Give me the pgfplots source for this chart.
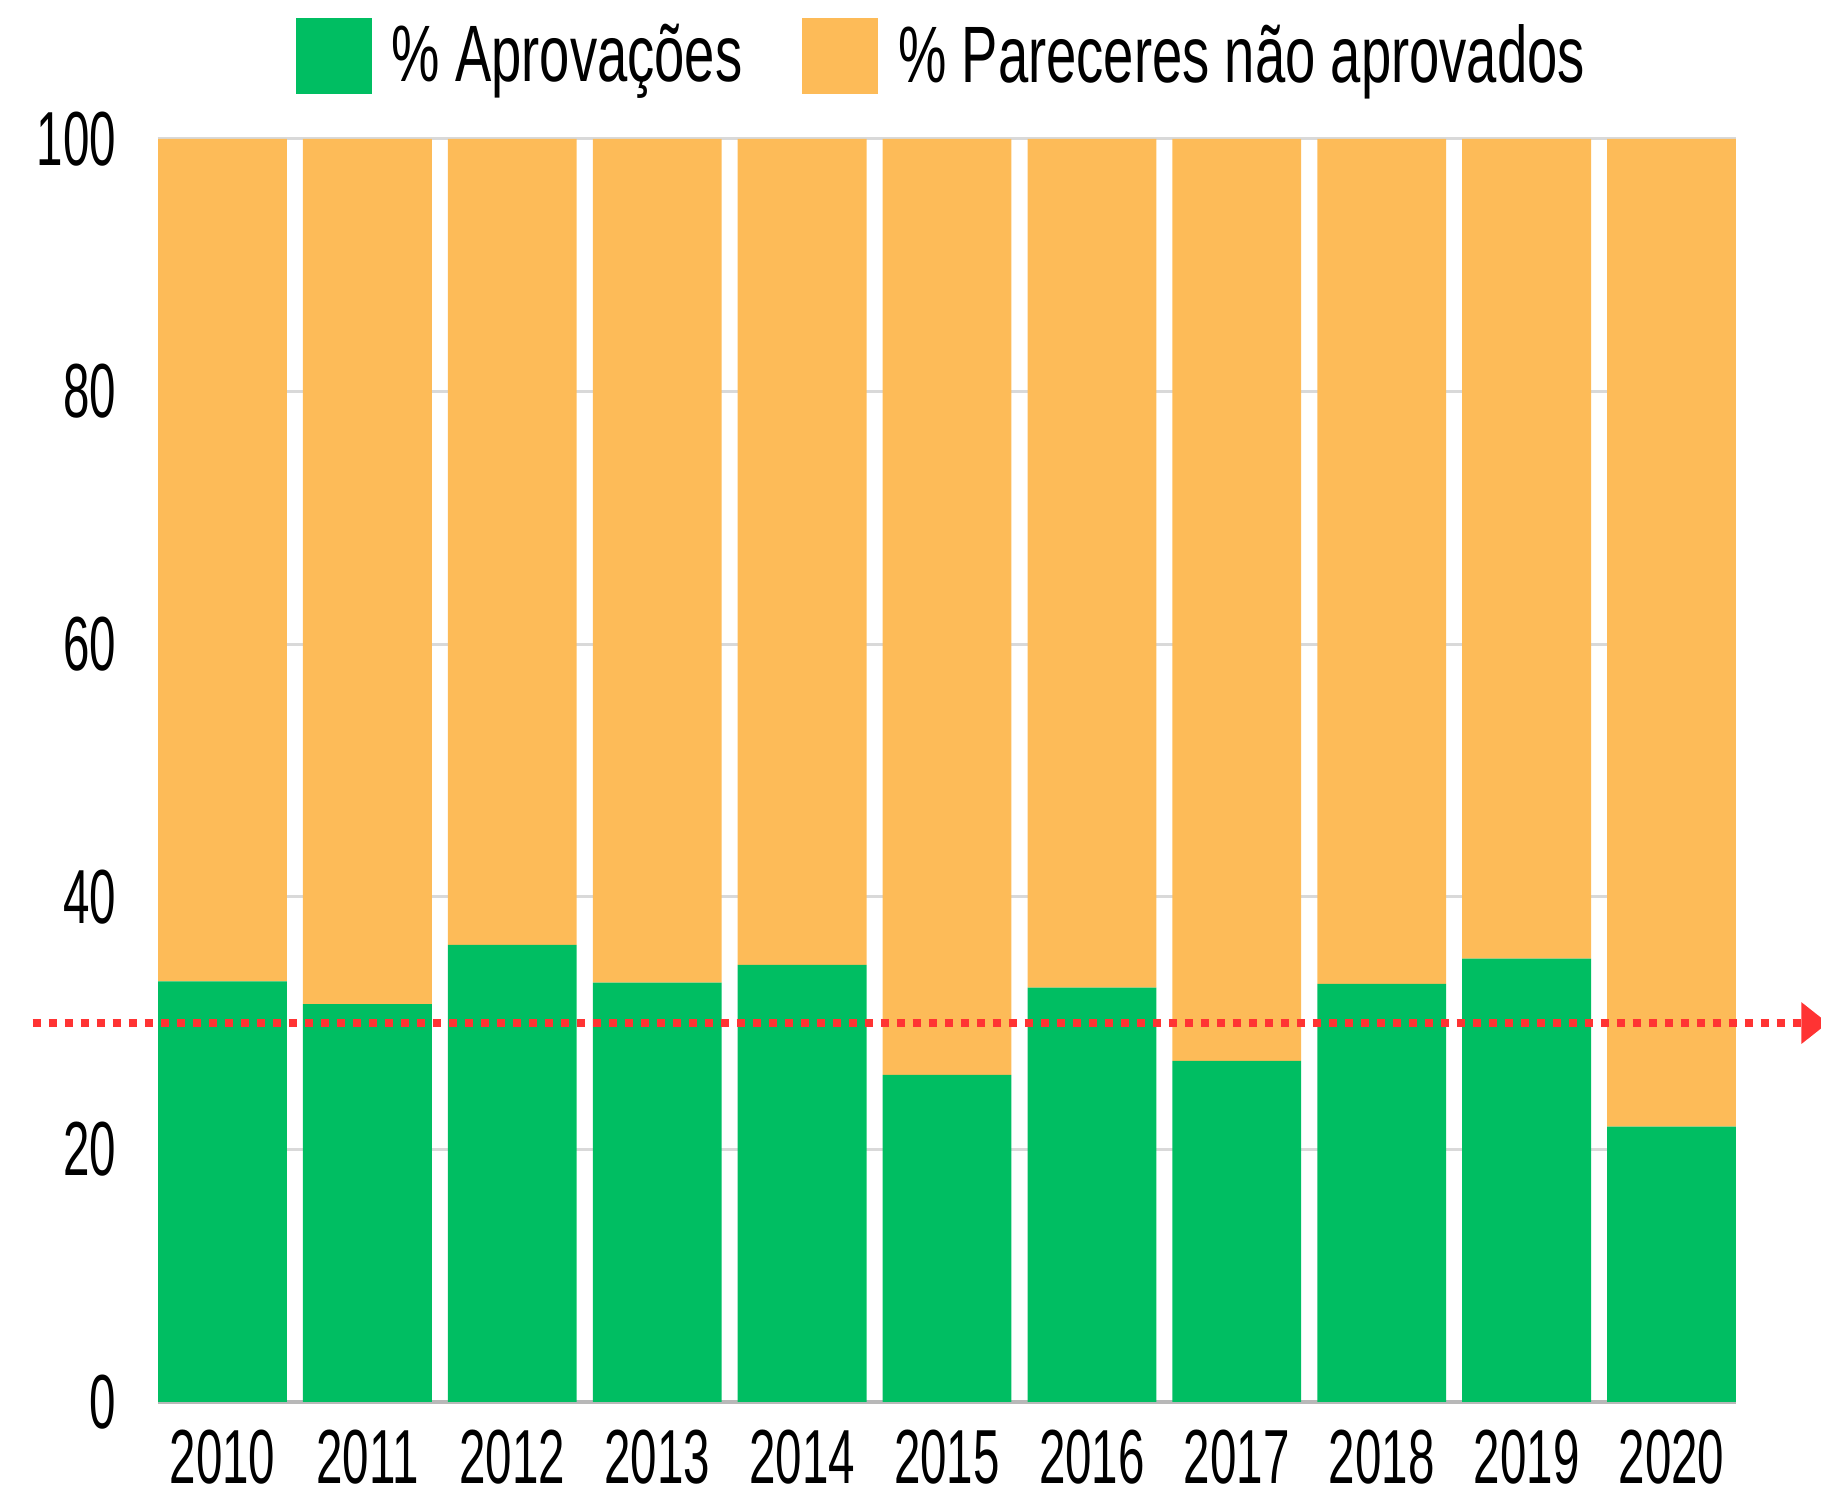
\documentclass[border=0pt]{standalone}
\usepackage{pgfplots}
\pgfplotsset{compat=1.18}
\usepackage{fontspec}
\setmainfont[FakeStretch=0.62]{Liberation Sans}
\newfontfamily\legfont[FakeStretch=0.68]{Liberation Sans}
\usetikzlibrary{arrows.meta}
\definecolor{verde}{RGB}{0,190,98}
\definecolor{laranja}{RGB}{253,187,88}
\definecolor{vermelho}{RGB}{255,51,51}
\begin{document}
\begin{tikzpicture}
\pgfplotsset{
    common/.style={
        width=473.4pt, height=378.9pt, scale only axis,
        xmin=-0.445, xmax=10.445, ymin=0, ymax=100,
    },
}
\begin{axis}[
    common,
    name=ax,
    ybar stacked,
    bar width=0.889,
    axis lines=left,
    axis line style={-},
    y axis line style={draw=none},
    x axis line style={draw=black!28, line width=1.2pt},
    xtick={0,...,10},
    xticklabels={2010,2011,2012,2013,2014,2015,2016,2017,2018,2019,2020},
    ytick={0,20,40,60,80,100},
    major tick length=0pt,
    ymajorgrids,
    grid style={draw=black!15, line width=0.9pt},
    /pgf/number format/assume math mode=true,
    tick label style={font=\fontsize{23}{23}\selectfont},
    yticklabel style={xshift=-9pt},
    xticklabel style={yshift=-5pt},
    legend columns=2,
    legend style={at={(0.5,1)}, anchor=center, xshift=1pt, yshift=25pt,
        draw=none, fill=none, font=\legfont\fontsize{24}{24}\selectfont,
        nodes={inner xsep=6pt},
        /tikz/every even column/.append style={column sep=12pt}},
    legend image code/.code={\fill[#1] (0pt,-11.4pt) rectangle (22.8pt,11.4pt);},
]
\addplot[fill=verde, draw=none] coordinates {
    (0,33.3) (1,31.5) (2,36.2) (3,33.2) (4,34.6) (5,25.9)
    (6,32.8) (7,27.0) (8,33.1) (9,35.1) (10,21.8)
};
\addplot[fill=laranja, draw=none] coordinates {
    (0,66.7) (1,68.5) (2,63.8) (3,66.8) (4,65.4) (5,74.1)
    (6,67.2) (7,73.0) (8,66.9) (9,64.9) (10,78.2)
};
\legend{\% Aprovações,\% Pareceres não aprovados}
\end{axis}
\begin{axis}[common, hide axis, clip=false]
\addplot[vermelho, line width=2.4pt, dash pattern=on 2.4pt off 2.4pt,
    -{Triangle[length=8pt,width=12pt]}] coordinates {(-1.31,30) (11.08,30)};
\end{axis}
\pgfresetboundingbox
\path[use as bounding box] ([xshift=-47.4pt,yshift=-28.2pt]ax.south west)
    rectangle ([xshift=25.5pt,yshift=41.7pt]ax.north east);
\end{tikzpicture}
\end{document}
